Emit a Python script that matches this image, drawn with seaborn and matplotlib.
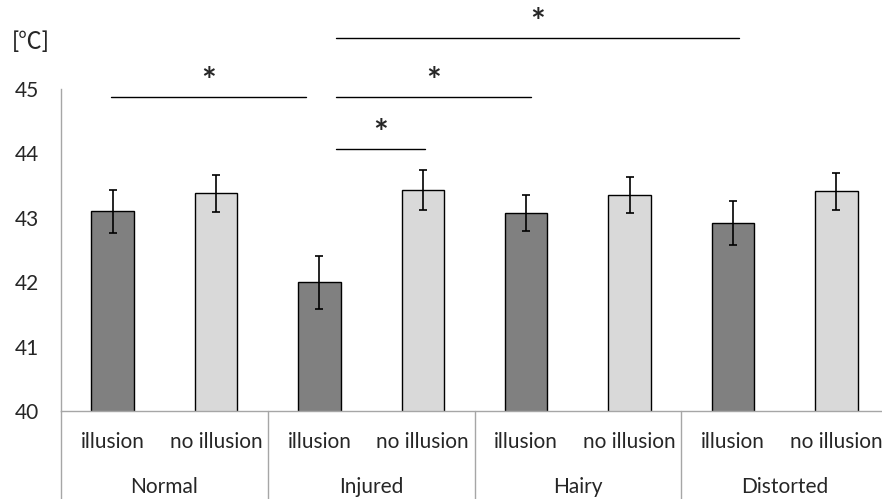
import numpy as np
import pandas as pd
import matplotlib
matplotlib.use("Agg")
import matplotlib.pyplot as plt
import matplotlib.transforms as mtransforms
import seaborn as sns

# values
groups = ["Normal", "Injured", "Hairy", "Distorted"]
conditions = ["illusion", "no illusion"]
illusion_means = [43.10, 42.00, 43.08, 42.92]
no_illusion_means = [43.38, 43.43, 43.35, 43.41]
illusion_err = [0.33, 0.41, 0.28, 0.34]
no_illusion_err = [0.29, 0.31, 0.28, 0.29]
y_ticks = [40, 41, 42, 43, 44, 45]

# significance brackets: (from bar index, to bar index, height)
sig_pairs = [(-0.02, 1.87, 44.88), (2.16, 3.02, 44.07), (2.16, 4.05, 44.88), (2.16, 6.06, 45.79)]

rows = []
for i, g in enumerate(groups):
    rows.append({"bar": f"{g}_ill", "group": g, "condition": "illusion",
                 "temp": illusion_means[i], "err": illusion_err[i]})
    rows.append({"bar": f"{g}_no", "group": g, "condition": "no illusion",
                 "temp": no_illusion_means[i], "err": no_illusion_err[i]})
df = pd.DataFrame(rows)

sns.set_theme(style="white")
plt.rcParams["font.family"] = ["Lato", "Noto Sans CJK JP", "DejaVu Sans"]

fig = plt.figure(figsize=(8.82, 4.99), dpi=100)
ax = fig.add_axes([61 / 882, 88 / 499, 827 / 882, 322 / 499])

sns.barplot(data=df, x="bar", y="temp", hue="condition", dodge=False,
            palette={"illusion": "#808080", "no illusion": "#d9d9d9"},
            edgecolor="black", linewidth=1.0, width=0.41, legend=False, ax=ax,
            errorbar=None)
xs = np.arange(len(df))
ax.errorbar(xs, df["temp"], yerr=df["err"], fmt="none", ecolor="black",
            elinewidth=1.2, capsize=3, capthick=1.2)

ax.set_ylim(40, 45)
ax.set_xlim(-0.5, len(df) - 0.5)
ax.set_yticks(y_ticks)
ax.set_yticklabels([str(t) for t in y_ticks], fontsize=15)
ax.set_xticks(xs)
ax.set_xticklabels(df["condition"], fontsize=15)
ax.tick_params(axis="y", length=0, pad=16)
ax.tick_params(axis="x", length=0, pad=15)
ax.set_xlabel("")
ax.set_ylabel("")
for side in ["top", "right"]:
    ax.spines[side].set_visible(False)
for side in ["left", "bottom"]:
    ax.spines[side].set_color("#a6a6a6")
    ax.spines[side].set_linewidth(1.0)

trans = mtransforms.blended_transform_factory(ax.transData, ax.transAxes)
for k in range(len(groups) + 1):
    ax.plot([2 * k - 0.5, 2 * k - 0.5], [0, -0.28], color="#a6a6a6",
            lw=1.0, transform=trans, clip_on=False)
for k, g in enumerate(groups):
    ax.text(2 * k + 0.5, -0.235, g, transform=trans, ha="center", va="center",
            fontsize=15)

for x0, x1, y in sig_pairs:
    ax.plot([x0, x1], [y, y], color="black", lw=1.0, clip_on=False)
    ax.text((x0 + x1) / 2, y + 0.23, "*", ha="center", va="center",
            fontsize=25, fontweight="bold", clip_on=False)

fig.text(12 / 882, 1 - 42 / 499, "[℃]", ha="left", va="center", fontsize=17)

fig.savefig("out.png", dpi=100)
